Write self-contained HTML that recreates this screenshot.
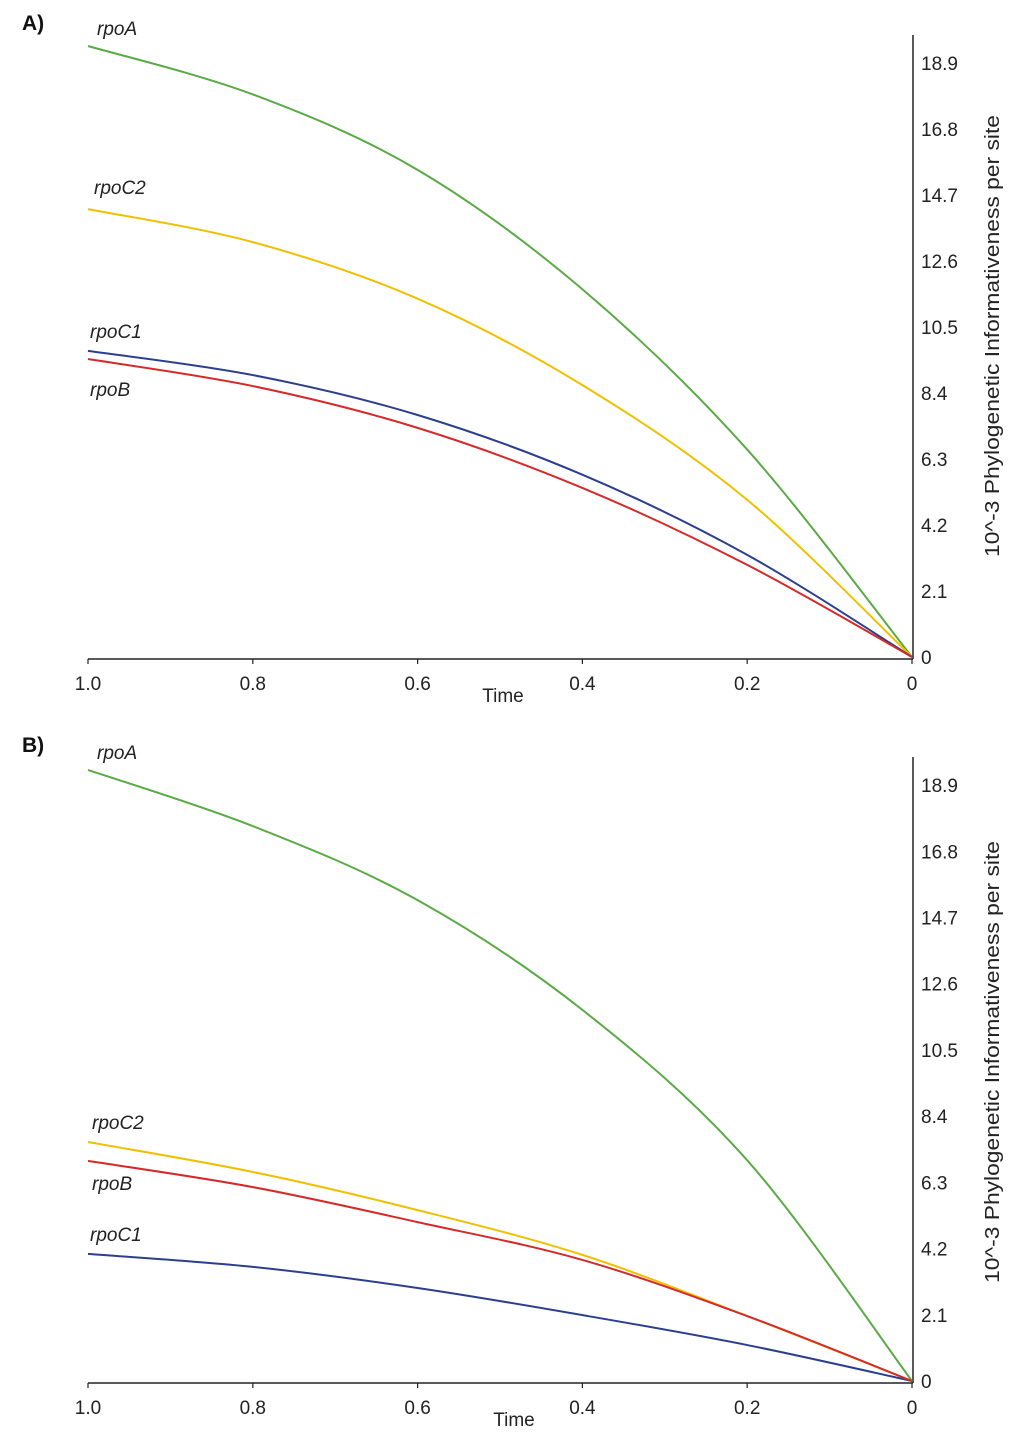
<!DOCTYPE html>
<html><head><meta charset="utf-8">
<style>
html,body{margin:0;padding:0;background:#fff;}
svg{display:block;font-family:"Liberation Sans",Arial,sans-serif;}
</style></head>
<body>
<svg id="chart" width="1024" height="1446" viewBox="0 0 1024 1446" xmlns="http://www.w3.org/2000/svg"></svg>
<script>
const times = [1.0, 0.8, 0.6, 0.4, 0.2, 0.0];
const xTickLabels = ["1.0","0.8","0.6","0.4","0.2","0"];
const xTickValues = [1.0,0.8,0.6,0.4,0.2,0];
const yTickValues = [0,2.1,4.2,6.3,8.4,10.5,12.6,14.7,16.8,18.9];
const yTickLabels = ["0","2.1","4.2","6.3","8.4","10.5","12.6","14.7","16.8","18.9"];
const seriesNames = ["rpoA","rpoC2","rpoC1","rpoB"];
const seriesColors = ["#5aaa46","#f0c000","#2c3f8c","#d42a2a"];
// Panel A values (10^-3 PI per site)
const aRpoA  = [19.44, 17.9, 15.5, 11.7, 6.6, 0];
const aRpoC2 = [14.25, 13.2, 11.4, 8.65, 5.0, 0];
const aRpoC1 = [9.74, 8.97, 7.7, 5.8, 3.25, 0];
const aRpoB  = [9.48, 8.62, 7.29, 5.38, 2.93, 0];
// Panel B values
const bRpoA  = [19.38, 17.6, 15.25, 11.77, 7.0, 0];
const bRpoC2 = [7.58, 6.63, 5.42, 4.0, 2.06, 0];
const bRpoC1 = [4.03, 3.62, 2.95, 2.09, 1.14, 0];
const bRpoB  = [6.98, 6.15, 5.04, 3.84, 2.06, 0];

const NS="http://www.w3.org/2000/svg";
const svg=document.getElementById('chart');
function mk(tag,attrs,parent){const e=document.createElementNS(NS,tag);for(const k in attrs)e.setAttribute(k,attrs[k]);(parent||svg).appendChild(e);return e;}

function drawPanel(letter, zeroY, pxPerUnit, axisTop, titleCy, labelPos, values, panelName){
  const g=mk('g',{});
  
  
  const xs=v=>912-(v*824);
  const ys=v=>zeroY-v*pxPerUnit;
  const t=mk('text',{x:22,y:axisTop-5,'font-size':21,'font-weight':'bold',fill:'#111'},g);
  t.textContent=letter+')';
  
  
  const ax=mk('line',{x1:88,y1:zeroY+2,x2:913,y2:zeroY+2,stroke:'#222','stroke-width':1.5},g);
  
  
  const ay=mk('line',{x1:913,y1:axisTop,x2:913,y2:zeroY+2,stroke:'#222','stroke-width':1.5},g);
  
  
  xTickValues.forEach((v,i)=>{
    const tk=mk('line',{x1:xs(v),y1:zeroY+2,x2:xs(v),y2:zeroY+7,stroke:'#222','stroke-width':1.2},g);
    
    
    const tl=mk('text',{x:xs(v),y:zeroY+33,'font-size':19,'text-anchor':'middle',fill:'#222'},g);
    tl.textContent=xTickLabels[i];
    
    
  });
  const xt=mk('text',{x:letter==='A'?503:514,y:zeroY+45,'font-size':19,'text-anchor':'middle',fill:'#222'},g);
  xt.textContent='Time';
  
  
  yTickValues.forEach((v,i)=>{
    const tl=mk('text',{x:921,y:ys(v)+7,'font-size':19,fill:'#222'},g);
    tl.textContent=yTickLabels[i];
    
    
  });
  const yt=mk('text',{x:0,y:0,'font-size':20,'text-anchor':'middle',fill:'#222',textLength:442,lengthAdjust:'spacingAndGlyphs',transform:`translate(999,${titleCy}) rotate(-90)`},g);
  yt.textContent='10^-3 Phylogenetic Informativeness per site';
  
  
  values.forEach((vals,si)=>{
    const pts=times.map((tv,i)=>[xs(tv),ys(vals[i])]);
    let d=`M${pts[0][0]},${pts[0][1]}`;
    for(let i=0;i<pts.length-1;i++){
      const p0=pts[Math.max(0,i-1)],p1=pts[i],p2=pts[i+1],p3=pts[Math.min(pts.length-1,i+2)];
      const c1=[p1[0]+(p2[0]-p0[0])/6,p1[1]+(p2[1]-p0[1])/6];
      const c2=[p2[0]-(p3[0]-p1[0])/6,p2[1]-(p3[1]-p1[1])/6];
      d+=` C${c1[0]},${c1[1]} ${c2[0]},${c2[1]} ${p2[0]},${p2[1]}`;
    }
    const path=mk('path',{d:d,fill:'none',stroke:seriesColors[si],'stroke-width':2},g);
    
    
    const lp=labelPos[si];
    const lb=mk('text',{x:lp[0],y:lp[1],'font-size':19,'font-style':'italic',fill:'#222'},g);
    lb.textContent=seriesNames[si];
    
    
  });
}
drawPanel('A',657,31.43,35,336,[[97,35],[94,194],[90,338],[90,396]],[aRpoA,aRpoC2,aRpoC1,aRpoB],'panel-a');
drawPanel('B',1381,31.53,757,1062,[[97,759],[92,1129],[90,1241],[92,1190]],[bRpoA,bRpoC2,bRpoC1,bRpoB],'panel-b');
</script>
</body></html>
